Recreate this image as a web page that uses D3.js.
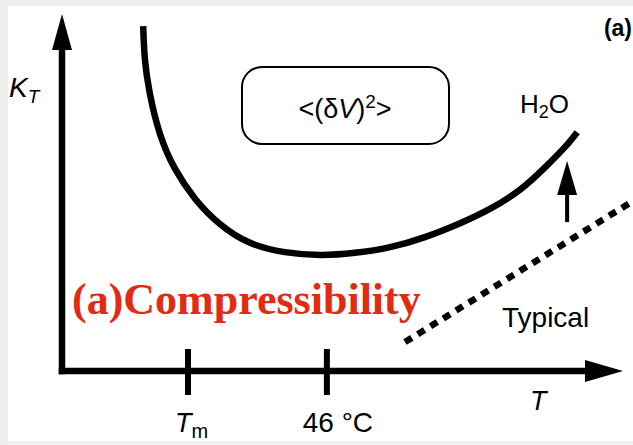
<!DOCTYPE html>
<html>
<head>
<meta charset="utf-8">
<script src="https://cdn.jsdelivr.net/npm/d3@7"></script>
<style>
  html, body { margin: 0; padding: 0; background: #efefef; }
  svg { display: block; }
</style>
</head>
<body>
<svg id="chart" width="633" height="445"></svg>
<script>
// ---- data (arbitrary schematic units: T 0..100, K_T 0..100) ----
const curveT  = [14.5, 14.8, 15.7, 17.5, 20.2, 23.8, 28.2, 33.6, 39.8, 46.1, 52.3, 58.6, 64.8, 71.1, 76.4, 81.8, 86.3, 89.8, 92.0];
const curveKT = [96.6, 87.4, 77.6, 66.4, 56.6, 48.2, 41.2, 35.9, 33.3, 32.5, 33.1, 34.7, 37.5, 41.4, 45.4, 50.8, 57.1, 62.7, 66.9];
const typicalT  = [61.25, 101.96];
const typicalKT = [8.1, 47.6];
const tickPositions = [22.5, 47.3];
const tickLabels = ["Tm", "46 °C"];
const arrowT = 90.2;
const arrowKT = [41.7, 58.8];

const svg = d3.select("#chart");
// white panel
svg.append("rect").attr("x", 8).attr("y", 6).attr("width", 625).attr("height", 435).attr("fill", "#ffffff");

const x = d3.scaleLinear().domain([0, 100]).range([62, 622]);
const y = d3.scaleLinear().domain([0, 100]).range([371, 14]);

const black = "#000";

// axes
const axisW = 6.5;
svg.append("line").attr("x1", x(0)).attr("x2", x(0)).attr("y1", y(0) + axisW/2).attr("y2", y(95))
  .attr("stroke", black).attr("stroke-width", axisW);
svg.append("line").attr("x1", x(0) - axisW/2).attr("x2", x(96)).attr("y1", y(0)).attr("y2", y(0))
  .attr("stroke", black).attr("stroke-width", axisW);
// arrowheads
svg.append("path").attr("d", `M${x(0)},${y(100)} L${x(0)-10},${y(100)+36} L${x(0)+10},${y(100)+36} Z`).attr("fill", black);
svg.append("path").attr("d", `M${x(100)+1},${y(0)} L${x(100)-37},${y(0)-11} L${x(100)-37},${y(0)+11} Z`).attr("fill", black);

// ticks
svg.selectAll(".tick").data(tickPositions).enter().append("line")
  .attr("x1", d => x(d)).attr("x2", d => x(d))
  .attr("y1", y(0) - 22).attr("y2", y(0) + 24)
  .attr("stroke", black).attr("stroke-width", 6);

// tick labels
const tm = svg.append("text").attr("x", x(tickPositions[0]) - 13).attr("y", 432)
  .attr("font-family", "Liberation Sans, Arial, sans-serif").attr("font-size", 27).attr("fill", black);
tm.append("tspan").attr("font-style", "italic").text(tickLabels[0].charAt(0));
tm.append("tspan").attr("font-size", 20).attr("dy", 6).text(tickLabels[0].slice(1));
svg.append("text").attr("x", x(tickPositions[1]) + 11).attr("y", 432).attr("text-anchor", "middle")
  .attr("font-family", "Liberation Sans, Arial, sans-serif").attr("font-size", 28).attr("fill", black)
  .text(tickLabels[1]);

// axis titles
svg.append("text").attr("x", 530).attr("y", 410)
  .attr("font-family", "Liberation Sans, Arial, sans-serif").attr("font-size", 27).attr("font-style", "italic")
  .attr("fill", black).text("T");
const kt = svg.append("text").attr("x", 9).attr("y", 97)
  .attr("font-family", "Liberation Sans, Arial, sans-serif").attr("font-size", 28).attr("fill", black);
kt.append("tspan").attr("font-style", "italic").text("K");
kt.append("tspan").attr("font-style", "italic").attr("font-size", 19).attr("dy", 6).text("T");

// (a)
svg.append("text").attr("x", 632).attr("y", 36).attr("text-anchor", "end")
  .attr("font-family", "Liberation Sans, Arial, sans-serif").attr("font-size", 23).attr("font-weight", "bold")
  .attr("fill", black).text("(a)");

// H2O curve
const pts = curveT.map((t, i) => [t, curveKT[i]]);
const line = d3.line().x(d => x(d[0])).y(d => y(d[1])).curve(d3.curveNatural);
svg.append("path").attr("d", line(pts)).attr("fill", "none").attr("stroke", black).attr("stroke-width", 6.5);

// typical dotted line
const tpts = typicalT.map((t, i) => [t, typicalKT[i]]);
svg.append("path").attr("d", d3.line().x(d => x(d[0])).y(d => y(d[1]))(tpts))
  .attr("fill", "none").attr("stroke", black).attr("stroke-width", 6.5).attr("stroke-dasharray", "8,7");

// up arrow
svg.append("line").attr("x1", x(arrowT)).attr("x2", x(arrowT)).attr("y1", y(arrowKT[0])).attr("y2", y(arrowKT[1]) + 20)
  .attr("stroke", black).attr("stroke-width", 4);
svg.append("path").attr("d", `M${x(arrowT)},${y(arrowKT[1])} L${x(arrowT)-10},${y(arrowKT[1])+34} L${x(arrowT)+10},${y(arrowKT[1])+34} Z`)
  .attr("fill", black);

// H2O label
const h = svg.append("text").attr("x", 520).attr("y", 113)
  .attr("font-family", "Liberation Sans, Arial, sans-serif").attr("font-size", 26).attr("fill", black);
h.append("tspan").text("H");
h.append("tspan").attr("font-size", 18).attr("dy", 5).text("2");
h.append("tspan").attr("dy", -5).text("O");

// Typical label
svg.append("text").attr("x", 502).attr("y", 327)
  .attr("font-family", "Liberation Sans, Arial, sans-serif").attr("font-size", 28).attr("fill", black)
  .text("Typical");

// box
svg.append("rect").attr("x", 242).attr("y", 67).attr("width", 207).attr("height", 77).attr("rx", 20)
  .attr("fill", "none").attr("stroke", black).attr("stroke-width", 2);
const dv = svg.append("text").attr("x", 345).attr("y", 118).attr("text-anchor", "middle")
  .attr("font-family", "Liberation Sans, Arial, sans-serif").attr("font-size", 27).attr("fill", black);
dv.append("tspan").text("<(δ");
dv.append("tspan").attr("font-style", "italic").text("V");
dv.append("tspan").text(")");
dv.append("tspan").attr("font-size", 19).attr("dy", -10).text("2");
dv.append("tspan").attr("dy", 10).text(">");

// red title
svg.append("text").attr("x", 72).attr("y", 314)
  .attr("font-family", "Liberation Serif, 'Times New Roman', serif").attr("font-size", 44).attr("font-weight", "bold")
  .attr("fill", "#e12b12").text("(a)Compressibility");
</script>
</body>
</html>
